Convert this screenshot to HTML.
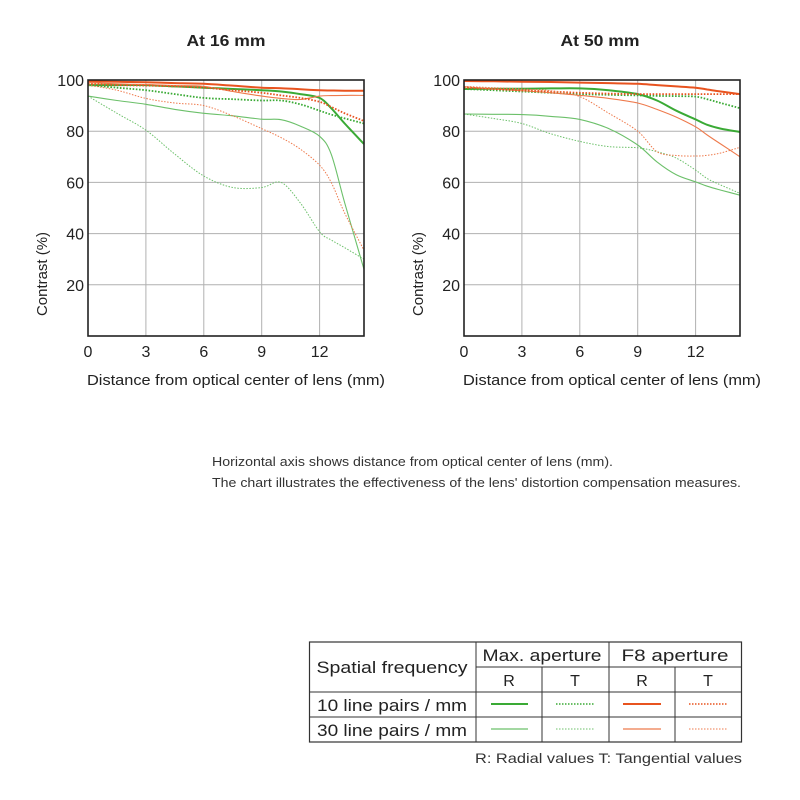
<!DOCTYPE html>
<html><head><meta charset="utf-8"><style>
body{margin:0;background:#fff;}
svg{display:block;font-family:"Liberation Sans","DejaVu Sans",sans-serif;}
</style></head><body>
<svg id="c" width="800" height="800" viewBox="0 0 800 800">
<text x="226" y="46" font-size="15.5" font-weight="bold" text-anchor="middle" fill="#222" textLength="79" lengthAdjust="spacingAndGlyphs">At 16 mm</text>
<text x="600" y="46" font-size="15.5" font-weight="bold" text-anchor="middle" fill="#222" textLength="79" lengthAdjust="spacingAndGlyphs">At 50 mm</text>
<text x="212" y="466" font-size="12.5" fill="#333" textLength="401" lengthAdjust="spacingAndGlyphs">Horizontal axis shows distance from optical center of lens (mm).</text>
<text x="212" y="487" font-size="12.5" fill="#333" textLength="529" lengthAdjust="spacingAndGlyphs">The chart illustrates the effectiveness of the lens' distortion compensation measures.</text>
<g id="legend">
<rect x="309.5" y="642" width="432" height="100" fill="none" stroke="#333" stroke-width="1.2"/>
<line x1="476" y1="642" x2="476" y2="742" stroke="#333"/>
<line x1="609" y1="642" x2="609" y2="742" stroke="#333"/>
<line x1="542" y1="667" x2="542" y2="742" stroke="#333"/>
<line x1="675" y1="667" x2="675" y2="742" stroke="#333"/>
<line x1="476" y1="667" x2="742" y2="667" stroke="#333"/>
<line x1="309" y1="692" x2="742" y2="692" stroke="#333"/>
<line x1="309" y1="717" x2="742" y2="717" stroke="#333"/>
<text x="392" y="673" font-size="17" text-anchor="middle" fill="#222" textLength="151" lengthAdjust="spacingAndGlyphs">Spatial frequency</text>
<text x="542" y="661" font-size="17" text-anchor="middle" fill="#222" textLength="119" lengthAdjust="spacingAndGlyphs">Max. aperture</text>
<text x="675" y="661" font-size="17" text-anchor="middle" fill="#222" textLength="107" lengthAdjust="spacingAndGlyphs">F8 aperture</text>
<text x="509" y="686" font-size="16" text-anchor="middle" fill="#222">R</text>
<text x="575" y="686" font-size="16" text-anchor="middle" fill="#222">T</text>
<text x="642" y="686" font-size="16" text-anchor="middle" fill="#222">R</text>
<text x="708" y="686" font-size="16" text-anchor="middle" fill="#222">T</text>
<text x="392" y="711" font-size="17" text-anchor="middle" fill="#222" textLength="150" lengthAdjust="spacingAndGlyphs">10 line pairs / mm</text>
<text x="392" y="736" font-size="17" text-anchor="middle" fill="#222" textLength="150" lengthAdjust="spacingAndGlyphs">30 line pairs / mm</text>
<line x1="491" y1="704" x2="528" y2="704" stroke="#3aaa35" stroke-width="2"/>
<line x1="556" y1="704" x2="594" y2="704" stroke="#3aaa35" stroke-width="1.5" stroke-dasharray="1.5,1.5"/>
<line x1="623" y1="704" x2="661" y2="704" stroke="#e8531f" stroke-width="2"/>
<line x1="689" y1="704" x2="727" y2="704" stroke="#e8531f" stroke-width="1.5" stroke-dasharray="1.5,1.5"/>
<line x1="491" y1="729" x2="528" y2="729" stroke="#6cc06a" stroke-width="1.2"/>
<line x1="556" y1="729" x2="594" y2="729" stroke="#6cc06a" stroke-width="1" stroke-dasharray="1.5,1.5"/>
<line x1="623" y1="729" x2="661" y2="729" stroke="#ee7a4c" stroke-width="1.2"/>
<line x1="689" y1="729" x2="727" y2="729" stroke="#ee7a4c" stroke-width="1" stroke-dasharray="1.5,1.5"/>
</g>
<text x="742" y="763" font-size="14" text-anchor="end" fill="#333" textLength="267" lengthAdjust="spacingAndGlyphs">R: Radial values  T: Tangential values</text>
</svg>
<script>
const xTicks = [0, 3, 6, 9, 12];
const yTicks = [20, 40, 60, 80, 100];
const xs16 = [0, 1.5, 3, 4.5, 6, 7.5, 9, 10, 11, 12, 12.6, 13.3, 14.3];
const maxR10_16 = [98, 98, 98, 97.5, 97, 96.5, 96, 95.5, 94.5, 93, 89, 83, 75];
const maxT10_16 = [98, 97, 96, 94.5, 93, 92.5, 92, 92, 90.5, 88, 86.5, 85, 83];
const maxR30_16 = [93.7, 92, 90.5, 88.5, 87, 86, 84.7, 84.5, 82, 78, 71, 52, 26];
const maxT30_16 = [93.7, 87, 80.4, 71, 62.5, 58, 58, 60, 52, 40.7, 37.5, 34.5, 30];
const f8R10_16 = [99.5, 99.3, 99.1, 98.8, 98.5, 97.8, 97, 96.8, 96.4, 96, 95.9, 95.8, 95.8];
const f8R30_16 = [99, 98.5, 98.2, 97.8, 97.5, 95.5, 93.7, 92.8, 92.4, 93.7, 93.9, 94, 94];
const f8T10_16 = [98.5, 98, 97.8, 97.5, 97, 96, 95, 94, 93, 91.5, 89.5, 87, 84];
const f8T30_16 = [98, 96, 92.8, 91, 90, 86, 81, 77.5, 73, 66.7, 60, 48, 33.5];
const xs50 = [0, 1.5, 3, 4.5, 6, 7.5, 9, 10, 11, 12, 12.6, 13.3, 14.3];
const maxR10_50 = [96.5, 96.6, 96.6, 96.7, 96.7, 96, 94.5, 92, 88, 84.6, 82.5, 81, 79.7];
const maxT10_50 = [96.5, 96, 95.5, 95, 94.5, 94.2, 94, 93.8, 93.7, 93.5, 92.5, 91, 89];
const maxR30_50 = [86.7, 86.6, 86.5, 85.8, 84.6, 81, 74.6, 68, 63, 60.2, 58.5, 57, 55];
const maxT30_50 = [86.7, 85, 83, 79, 76, 74, 73.5, 72, 69.5, 64.8, 61.5, 59, 55.7];
const f8R10_50 = [99.6, 99.5, 99.3, 99.2, 99, 98.8, 98.5, 98, 97.5, 97, 96.3, 95.5, 94.5];
const f8R30_50 = [97.4, 96.5, 95.8, 95, 94, 92.8, 91, 88.5, 85.5, 81.7, 78.5, 75, 70];
const f8T10_50 = [97, 96.5, 96, 95.5, 95, 94.7, 94.5, 94.5, 94.5, 94.5, 94.5, 94.5, 94.5];
const f8T30_50 = [97.5, 97, 96.5, 95.8, 93.5, 87, 80, 72, 70.5, 70.3, 70.6, 71.5, 73.7];

const svg = document.getElementById('c');
const NS = 'http://www.w3.org/2000/svg';
function mk(tag, attrs, parent) {
  const e = document.createElementNS(NS, tag);
  for (const k in attrs) e.setAttribute(k, attrs[k]);
  (parent || svg).appendChild(e);
  return e;
}
function smooth(pts) {
  let d = 'M' + pts[0][0].toFixed(1) + ',' + pts[0][1].toFixed(1);
  for (let i = 0; i < pts.length - 1; i++) {
    const p0 = pts[Math.max(0, i - 1)], p1 = pts[i], p2 = pts[i + 1], p3 = pts[Math.min(pts.length - 1, i + 2)];
    const c1x = p1[0] + (p2[0] - p0[0]) / 6, c1y = p1[1] + (p2[1] - p0[1]) / 6;
    const c2x = p2[0] - (p3[0] - p1[0]) / 6, c2y = p2[1] - (p3[1] - p1[1]) / 6;
    d += 'C' + c1x.toFixed(1) + ',' + c1y.toFixed(1) + ' ' + c2x.toFixed(1) + ',' + c2y.toFixed(1) + ' ' + p2[0].toFixed(1) + ',' + p2[1].toFixed(1);
  }
  return d;
}
const styles = [
  {stroke: '#3aaa35', w: 2, dash: null, n: 'max-r-10'},
  {stroke: '#3aaa35', w: 1.8, dash: '1.6,1.6', n: 'max-t-10'},
  {stroke: '#6cc06a', w: 1.1, dash: null, n: 'max-r-30'},
  {stroke: '#6cc06a', w: 1, dash: '1.5,1.5', n: 'max-t-30'},
  {stroke: '#e8531f', w: 2, dash: null, n: 'f8-r-10'},
  {stroke: '#ee7a4c', w: 1.1, dash: null, n: 'f8-r-30'},
  {stroke: '#e8531f', w: 1.8, dash: '1.6,1.6', n: 'f8-t-10'},
  {stroke: '#ee7a4c', w: 1, dash: '1.5,1.5', n: 'f8-t-30'}
];
function chart(x0, key, xsArr, series) {
  const X = v => x0 + v * 19.3;
  const Y = v => 336 - v * 2.56;
  const g = mk('g', {});
  
  
  const right = x0 + 276;
  mk('rect', {x: x0, y: 80, width: 276, height: 256, fill: '#fff'}, g);
  yTicks.forEach(t => {
    if (t < 100) {
      const l = mk('line', {x1: x0, x2: right, y1: Y(t), y2: Y(t), stroke: '#b0b0b0', 'stroke-width': 1}, g);
      
      
    }
    const tx = mk('text', {x: x0 - 4, y: Y(t) + 6, 'font-size': 16, 'text-anchor': 'end', fill: '#222'}, g);
    tx.textContent = t;
    
    
  });
  xTicks.forEach(t => {
    if (t > 0) {
      const l = mk('line', {x1: X(t), x2: X(t), y1: 80, y2: 336, stroke: '#b0b0b0', 'stroke-width': 1}, g);
      
      
    }
    const tx = mk('text', {x: X(t), y: 357, 'font-size': 16, 'text-anchor': 'middle', fill: '#222'}, g);
    tx.textContent = t;
    
    
  });
  series.forEach((vals, i) => {
    const s = styles[i];
    const pts = xsArr.map((x, j) => [X(x), Y(vals[j])]);
    const attrs = {d: smooth(pts), fill: 'none', stroke: s.stroke, 'stroke-width': s.w};
    if (s.dash) attrs['stroke-dasharray'] = s.dash;
    const p = mk('path', attrs, g);
    
    
  });
  const fr = mk('rect', {x: x0, y: 80, width: 276, height: 256, fill: 'none', stroke: '#222', 'stroke-width': 1.6}, g);
  
  
  const yt = mk('text', {x: 0, y: 0, 'font-size': 15, 'text-anchor': 'middle', fill: '#222', textLength: 84, lengthAdjust: 'spacingAndGlyphs', transform: 'translate(' + (x0 - 41) + ',274) rotate(-90)'}, g);
  yt.textContent = 'Contrast (%)';
  
  
  const xt = mk('text', {x: x0 + 148, y: 385, 'font-size': 14.5, 'text-anchor': 'middle', fill: '#222', textLength: 298, lengthAdjust: 'spacingAndGlyphs'}, g);
  xt.textContent = 'Distance from optical center of lens (mm)';
  
  
}
chart(88, '16mm', xs16, [maxR10_16, maxT10_16, maxR30_16, maxT30_16, f8R10_16, f8R30_16, f8T10_16, f8T30_16]);
chart(464, '50mm', xs50, [maxR10_50, maxT10_50, maxR30_50, maxT30_50, f8R10_50, f8R30_50, f8T10_50, f8T30_50]);
</script>
</body></html>
